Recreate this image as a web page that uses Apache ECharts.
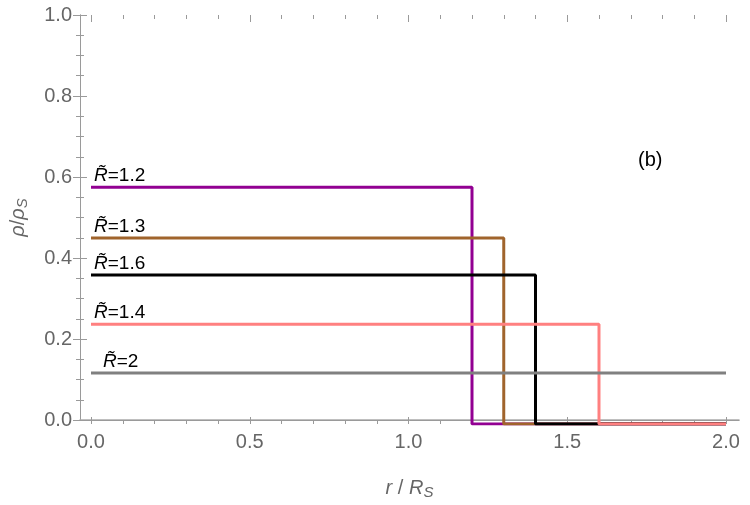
<!DOCTYPE html>
<html>
<head>
<meta charset="utf-8">
<script src="https://cdn.jsdelivr.net/npm/echarts@6/dist/echarts.min.js"></script>
<style>
  html, body { margin: 0; padding: 0; background: #fff; }
  #main { width: 750px; height: 505px; }
</style>
</head>
<body>
<div id="main"></div>
<script>
// step profiles: height up to the edge R, then zero out to r = 2
const labels = ['1.2', '1.3', '1.6', '1.4', '2']
const edges = [1.2, 1.3, 1.4, 1.6, 2.0]
const heights = [0.579, 0.455, 0.364, 0.244, 0.125]
const colors = ['#920092', '#a0642c', '#000000', '#ff8080', '#808080']
const xTicks = [0, 0.5, 1.0, 1.5, 2.0]
const yTicks = [0, 0.2, 0.4, 0.6, 0.8, 1.0]
const X_END = 2.0

const FONT = 'Liberation Sans'
const GREY = '#666'
const FRAME = '#9a9a9a'

const stepData = i => {
  const h = heights[i]
  const R = edges[i]
  const lab = {
    show: true,
    position: 'top',
    align: 'left',
    distance: 2,
    offset: [i === 4 ? 12 : 3, 0],
    formatter: '{r|R\u0303}=' + labels[i],
    fontFamily: FONT,
    fontSize: 19,
    color: '#000',
    rich: { r: { fontStyle: 'italic', fontFamily: FONT, fontSize: 19, color: '#000' } }
  }
  const pts = [{ value: [0, h], label: lab }]
  if (R < X_END) {
    pts.push([R, h], [R, 0], [X_END, 0])
  } else {
    pts.push([X_END, h])
  }
  return pts
}

const chart = echarts.init(document.getElementById('main'))
const tickCommon = {
  axisLine: { show: false },
  axisTick: { show: true, inside: true, length: 7, lineStyle: { color: FRAME } },
  minorTick: { show: true, splitNumber: 5, length: 4, lineStyle: { color: FRAME } },
  splitLine: { show: false }
}

chart.setOption({
  animation: false,
  title: {
    text: '(b)', left: 633, top: 145,
    textStyle: { fontFamily: FONT, fontSize: 20, fontWeight: 'normal', color: '#000' }
  },
  grid: [
    { left: 91, right: 24, top: 15, bottom: 81 },
    { left: 77, right: 11, top: 15, bottom: 81 }
  ],
  xAxis: [
    Object.assign({
      gridIndex: 0, type: 'value', position: 'bottom', min: 0, max: 2, interval: 0.5,
      axisLabel: {
        margin: 8, color: GREY, fontFamily: FONT, fontSize: 20,
        formatter: v => xTicks.includes(v) ? v.toFixed(1) : ''
      }
    }, tickCommon),
    Object.assign({
      gridIndex: 0, type: 'value', position: 'top', min: 0, max: 2, interval: 0.5,
      axisLabel: { show: false }
    }, tickCommon),
    {
      gridIndex: 1, type: 'value', position: 'bottom', min: 0, max: 1,
      axisLine: { show: true, lineStyle: { color: '#aaa', width: 1.5 } },
      axisTick: { show: false }, axisLabel: { show: false }, splitLine: { show: false },
      name: '{i|r} / {i|R}{s|S}', nameLocation: 'middle', nameGap: 56,
      nameTextStyle: {
        color: GREY, fontFamily: FONT, fontSize: 20,
        rich: {
          i: { fontStyle: 'italic', color: GREY, fontFamily: FONT, fontSize: 20 },
          s: { fontStyle: 'italic', color: GREY, fontFamily: FONT, fontSize: 15, padding: [9, 0, 0, 0] }
        }
      }
    },
    {
      gridIndex: 1, type: 'value', position: 'top', min: 0, max: 1,
      axisLine: { show: true, lineStyle: { color: FRAME } },
      axisTick: { show: false }, axisLabel: { show: false }, splitLine: { show: false }
    }
  ],
  yAxis: [
    { gridIndex: 0, type: 'value', min: 0, max: 1, show: false },
    {
      gridIndex: 1, type: 'value', position: 'left', min: 0, max: 1, interval: 0.2,
      axisLine: { show: true, lineStyle: { color: FRAME } },
      axisTick: { show: true, inside: true, length: 7, lineStyle: { color: FRAME } },
      minorTick: { show: true, splitNumber: 4, length: 4, lineStyle: { color: FRAME } },
      splitLine: { show: false },
      axisLabel: {
        margin: 8, color: GREY, fontFamily: FONT, fontSize: 20,
        formatter: v => yTicks.includes(+v.toFixed(1)) ? v.toFixed(1) : ''
      },
      name: '{i|\u03c1}/{i|\u03c1}{s|S}', nameLocation: 'middle', nameGap: 50, nameRotate: 90,
      nameTextStyle: {
        color: GREY, fontFamily: FONT, fontSize: 20,
        rich: {
          i: { fontStyle: 'italic', color: GREY, fontFamily: FONT, fontSize: 20 },
          s: { fontStyle: 'italic', color: GREY, fontFamily: FONT, fontSize: 15, padding: [9, 0, 0, 0] }
        }
      }
    },
    {
      gridIndex: 1, type: 'value', position: 'right', min: 0, max: 1, interval: 0.2,
      axisLine: { show: true, lineStyle: { color: FRAME } },
      axisTick: { show: true, inside: true, length: 7, lineStyle: { color: FRAME } },
      minorTick: { show: true, splitNumber: 4, length: 4, lineStyle: { color: FRAME } },
      splitLine: { show: false },
      axisLabel: { show: false }
    }
  ],
  series: labels.map((l, i) => ({
    type: 'line',
    name: 'R=' + l,
    xAxisIndex: 0,
    yAxisIndex: 0,
    data: stepData(i),
    showSymbol: true,
    symbol: 'circle',
    symbolSize: 0,
    label: { show: false },
    lineStyle: { color: colors[i], width: 3 },
    z: 3 + i
  }))
})
</script>
</body>
</html>
